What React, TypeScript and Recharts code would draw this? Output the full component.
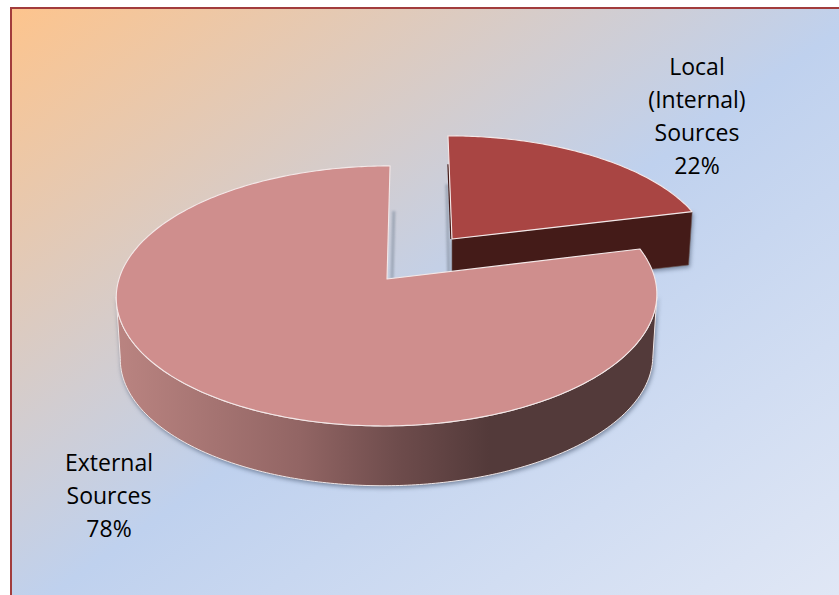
import React from "react";
import { PieChart, Pie } from "recharts";

const categories = ["Local (Internal) Sources", "External Sources"];
const shareValues = [22, 78];
const labelLines = [
  ["Local", "(Internal)", "Sources"],
  ["External", "Sources"],
];

const W = 839;
const H = 595;
const TILT = 0.477;
const PERSPECTIVE = 0.13;
const FORESHORTEN = 1.31;
const WALL_SCALE = 0.985;
const FONT = '"Open Sans", "Noto Sans", sans-serif';

const sliceStyles = [
  { dx: 65, dy: -40, sx: 0.957, sy: 0.912, shear: -0.039, depth: 53, top: "#a94543", wall: "#441b18", labelDx: 310, labelDy: -204, outer: false },
  { dx: 0, dy: 0, sx: 1, sy: 1, shear: 0.027, depth: 62, top: "#cf8e8d", wall: "url(#outerWall)", labelDx: -278, labelDy: 192, outer: true },
];

type Pt = [number, number];

function makeProject(cx: number, cy: number, R: number, g: any) {
  return (deg: number, r = 1, lower = false): Pt => {
    const a = (deg * Math.PI) / 180;
    const t = Math.atan2(FORESHORTEN * Math.sin(a), Math.cos(a));
    const u = r * Math.cos(t);
    const v = r * Math.sin(t);
    const d = 1 + PERSPECTIVE * v;
    const s = lower ? WALL_SCALE : 1;
    const X = (u / d) * R * g.sx * s;
    const Y = (v / d) * R * TILT * g.sy * s;
    return [cx + g.dx + X + g.shear * Y, cy + g.dy - Y + (lower ? g.depth : 0)];
  };
}

const toPath = (pts: Pt[], close = true) =>
  "M" + pts.map((p) => `${p[0].toFixed(2)},${p[1].toFixed(2)}`).join("L") + (close ? "Z" : "");

function arc(project: (d: number, r?: number, l?: boolean) => Pt, from: number, to: number, lower = false) {
  const pts: Pt[] = [];
  const n = Math.max(2, Math.ceil(Math.abs(to - from)));
  for (let i = 0; i <= n; i++) pts.push(project(from + ((to - from) * i) / n, 1, lower));
  return pts;
}

function Slice3D(props: any) {
  const { cx, cy, outerRadius, startAngle, endAngle, index } = props;
  const g = sliceStyles[index];
  const project = makeProject(cx, cy, outerRadius, g);
  const apex = project(0, 0);
  const apexLow = project(0, 0, true);
  const rim = arc(project, startAngle, endAngle);
  const topFace = toPath([apex, ...rim]);
  const shadow = "drop-shadow(1px 2px 2px rgba(70,85,110,0.6))";

  return (
    <g>
      {g.outer ? (
        <>
          <defs>
            <linearGradient id="outerWall" x1="0" y1="0" x2="1" y2="0">
              <stop offset="0" stopColor="#ba8481" />
              <stop offset="0.34" stopColor="#926564" />
              <stop offset="0.52" stopColor="#6e4c4c" />
              <stop offset="0.69" stopColor="#533a3a" />
              <stop offset="1" stopColor="#533a3a" />
            </linearGradient>
          </defs>
          <path
            d={toPath([project(90, 0.57), apex].map((p) => [p[0] + 5, p[1]] as Pt), false)}
            stroke="#8d98a8"
            strokeWidth={3}
            strokeOpacity={0.75}
            fill="none"
            style={{ filter: "blur(0.8px)" }}
          />
          <path
            d={toPath([...arc(project, -6, -174), ...arc(project, -174, -6, true)])}
            fill={g.wall}
            stroke="#efe6e6"
            strokeWidth={1}
            style={{ filter: shadow }}
          />
        </>
      ) : (
        <>
          <path
            d={toPath([project(startAngle, 0.5), apexLow].map((p) => [p[0] - 3, p[1]] as Pt), false)}
            stroke="#8d98a8"
            strokeWidth={3}
            strokeOpacity={0.75}
            fill="none"
            style={{ filter: "blur(0.8px)" }}
          />
          <path
            d={toPath([project(startAngle, 0.7), apex].map((p) => [p[0] - 1, p[1]] as Pt), false)}
            stroke={g.wall}
            strokeWidth={1.5}
            fill="none"
          />
          <path
            d={toPath([apex, project(endAngle), project(endAngle, 1, true), apexLow])}
            fill={g.wall}
            stroke="#6d5a58"
            strokeWidth={0.6}
            style={{ filter: shadow }}
          />
        </>
      )}
      <path d={topFace} fill={g.top} stroke="#f4e8e8" strokeWidth={1.1} strokeLinejoin="round" />
    </g>
  );
}

function SliceLabel(props: any) {
  const { cx, cy, index, value } = props;
  const g = sliceStyles[index];
  const lines = [...labelLines[index], `${value}%`];
  const x = cx + g.labelDx;
  const y = cy + g.labelDy;
  return (
    <text x={x} y={y} textAnchor="middle" fontFamily={FONT} fontSize={23} fill="#000">
      {lines.map((line, i) => (
        <tspan key={line} x={x} dy={i === 0 ? 0 : 33}>
          {line}
        </tspan>
      ))}
    </text>
  );
}

const pieData = categories.map((name, i) => ({ name, value: shareValues[i] }));

export default function App() {
  return (
    <div style={{ position: "absolute", left: 0, top: 0, width: W, height: H, overflow: "hidden" }}>
      <svg width={W} height={H} style={{ position: "absolute", left: 0, top: 0 }}>
        <defs>
          <linearGradient id="panelFill" x1="0" y1="0" x2="1" y2="1">
            <stop offset="0" stopColor="#fdc48d" />
            <stop offset="0.5" stopColor="#bfd1ee" />
            <stop offset="1" stopColor="#e3e9f6" />
          </linearGradient>
        </defs>
        <rect x={11} y={8} width={W + 20} height={H + 20} fill="url(#panelFill)" stroke="#a23c3c" strokeWidth={2} />
      </svg>
      <div style={{ position: "absolute", left: 0, top: 0 }}>
        <PieChart width={W} height={H} margin={{ top: 0, right: 0, bottom: 0, left: 0 }}>
          <Pie
            data={pieData}
            dataKey="value"
            nameKey="name"
            cx={387}
            cy={279}
            innerRadius={0}
            outerRadius={268}
            startAngle={90}
            endAngle={-270}
            stroke="none"
            shape={Slice3D}
            label={SliceLabel}
            labelLine={false}
            isAnimationActive={false}
            rootTabIndex={-1}
          />
        </PieChart>
      </div>
    </div>
  );
}
